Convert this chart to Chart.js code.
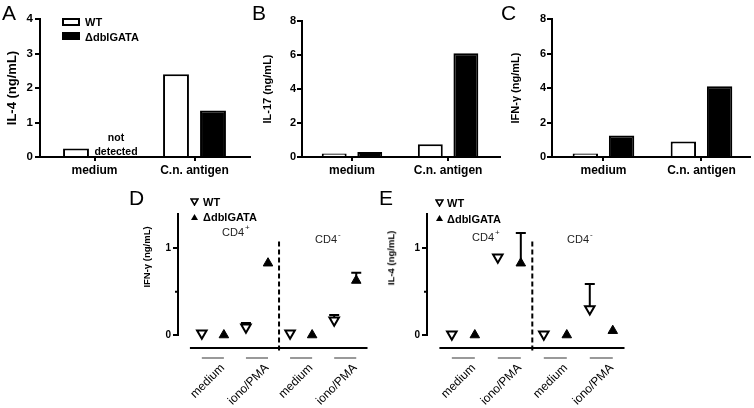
<!DOCTYPE html>
<html>
<head>
<meta charset="utf-8">
<script src="https://cdn.jsdelivr.net/npm/chart.js@4.4.1/dist/chart.umd.min.js"></script>
<style>
body { margin: 0; width: 754px; height: 408px; position: relative; background: #fff; overflow: hidden;
       font-family: 'Liberation Sans', Arial, sans-serif; color: #000; }
canvas { position: absolute; }
.t { position: absolute; line-height: 1; white-space: nowrap; transform: translateY(-50%); }
.b { font-weight: bold; }
.letra { position: absolute; font-size: 21px; line-height: 1; }
.rot { transform: translate(-50%, -50%) rotate(-90deg); }
.caja { position: absolute; width: 18px; height: 8px; box-sizing: border-box; border: 2px solid #000; }
.m { position: absolute; }
.sup { position: relative; top: -6px; font-size: 8px; margin-left: 1px; }
</style>
</head>
<body>
<canvas id="graficaA" style="left:0;top:0" width="252" height="185"></canvas>
<canvas id="graficaB" style="left:252px;top:0" width="250" height="185"></canvas>
<canvas id="graficaC" style="left:502px;top:0" width="252" height="185"></canvas>
<canvas id="graficaD" style="left:120px;top:185px" width="255" height="223"></canvas>
<canvas id="graficaE" style="left:370px;top:185px" width="262" height="223"></canvas>

<div class="letra" style="left:2px;top:2px">A</div>
<div class="letra" style="left:252px;top:2px">B</div>
<div class="letra" style="left:501px;top:2px">C</div>
<div class="letra" style="left:129px;top:187px">D</div>
<div class="letra" style="left:379px;top:187px">E</div>

<!-- leyenda A -->
<div class="caja" style="left:62px;top:18px;background:#fff"></div>
<div class="caja" style="left:62px;top:32px;background:#000"></div>
<div class="t b" style="left:85px;top:22px;font-size:11px">WT</div>
<div class="t b" style="left:85px;top:37px;font-size:11px">ΔdblGATA</div>
<div class="t b" style="left:116px;top:144px;font-size:10.5px;line-height:14px;text-align:center;transform:translate(-50%,-50%)">not<br>detected</div>

<!-- leyenda D -->
<svg class="m" style="left:190px;top:198px" width="9" height="8"><polygon points="1,1 8,1 4.5,7" fill="#fff" stroke="#000" stroke-width="1.6"/></svg>
<svg class="m" style="left:190px;top:213px" width="9" height="8"><polygon points="1,7 8,7 4.5,1" fill="#000"/></svg>
<div class="t b" style="left:203px;top:202px;font-size:11px">WT</div>
<div class="t b" style="left:203px;top:217px;font-size:11px">ΔdblGATA</div>
<div class="t" style="left:222px;top:232px;font-size:11px;color:#222">CD4<span class="sup">+</span></div>
<div class="t" style="left:315px;top:239px;font-size:11px;color:#222">CD4<span class="sup">-</span></div>
<div class="t b rot" style="left:147px;top:257px;font-size:9.5px">IFN-γ (ng/mL)</div>

<!-- leyenda E -->
<svg class="m" style="left:435px;top:199px" width="9" height="8"><polygon points="1,1 8,1 4.5,7" fill="#fff" stroke="#000" stroke-width="1.6"/></svg>
<svg class="m" style="left:435px;top:214px" width="9" height="8"><polygon points="1,7 8,7 4.5,1" fill="#000"/></svg>
<div class="t b" style="left:447px;top:203px;font-size:11px">WT</div>
<div class="t b" style="left:447px;top:219px;font-size:11px">ΔdblGATA</div>
<div class="t" style="left:472px;top:237px;font-size:11px;color:#222">CD4<span class="sup">+</span></div>
<div class="t" style="left:567px;top:239px;font-size:11px;color:#222">CD4<span class="sup">-</span></div>
<div class="t b rot" style="left:391px;top:258px;font-size:9.5px">IL-4 (ng/mL)</div>

<script>
const FUENTE = "'Liberation Sans', Arial, sans-serif";

// A-C: sobrenadantes con antígeno
const CATEGORIAS = ['medium', 'C.n. antigen'];
const IL4_WT = [0.25, 2.4];
const IL4_DBL = [null, 1.35];   // medium: not detected
const IL17_WT = [0.2, 0.75];
const IL17_DBL = [0.3, 6.1];
const IFNG_WT = [0.2, 0.9];
const IFNG_DBL = [1.25, 4.1];

// D-E: CD4+ / CD4- con iono/PMA
const ESTIMULOS = ['medium', 'iono/PMA', 'medium', 'iono/PMA'];
const D_WT = [0.02, 0.09, 0.02, 0.17];
const D_WT_ERR = [null, 0.14, null, 0.23];
const D_DBL = [0, 0.83, 0, 0.63];
const D_DBL_ERR = [null, null, null, 0.72];
const E_WT = [0.01, 0.9, 0.01, 0.3];
const E_WT_ERR = [null, null, null, 0.59];
const E_DBL = [0, 0.83, 0, 0.05];
const E_DBL_ERR = [null, 1.18, null, null];

const DIVISION = 3.5;        // línea discontinua entre CD4+ y CD4-
const TOPE_DIVISION = 1.08;
const INICIO_EJE_X = -0.54;

function graficaBarras(id, o) {
    return new Chart(document.getElementById(id), {
        type: 'bar',
        data: {
            datasets: [
                { label: 'WT', data: o.wt.map((v, i) => ({ x: i, y: v })),
                  backgroundColor: '#fff', borderColor: '#000', borderWidth: 2 },
                { label: 'ΔdblGATA', data: o.dbl.map((v, i) => ({ x: i, y: v })),
                  backgroundColor: '#000', borderColor: '#000', borderWidth: 2 }
            ]
        },
        options: {
            responsive: false,
            animation: false,
            events: [],
            layout: { padding: { top: o.arriba, right: o.derecha, left: 0, bottom: 0 } },
            datasets: { bar: { categoryPercentage: 0.74, barPercentage: 0.7 } },
            plugins: { legend: { display: false }, tooltip: { enabled: false } },
            scales: {
                x: {
                    type: 'linear', offset: false, min: o.xMin, max: o.xMax,
                    afterBuildTicks: s => { s.ticks = CATEGORIAS.map((c, i) => ({ value: i })); },
                    afterFit: s => { s.height = 28; },
                    ticks: { callback: v => CATEGORIAS[v], autoSkip: false, maxRotation: 0, padding: 2,
                             color: '#000', font: { family: FUENTE, size: 12, weight: 'bold' } },
                    grid: { offset: false, drawOnChartArea: false, tickLength: 4, lineWidth: 2, color: '#000' },
                    border: { color: '#000', width: 2 }
                },
                y: {
                    min: 0, max: o.yMax,
                    afterFit: s => { s.width = o.ancho; },
                    ticks: { stepSize: o.paso, padding: o.tickPad, color: '#000',
                             font: { family: FUENTE, size: o.tickFont, weight: 'bold' } },
                    grid: { drawOnChartArea: false, tickLength: 5, lineWidth: 2, color: '#000' },
                    border: { color: '#000', width: 2 },
                    title: { display: true, text: o.titulo, color: '#000', padding: { top: o.tituloPad, bottom: 0 },
                             font: { family: FUENTE, size: o.tituloFont, weight: 'bold' } }
                }
            }
        }
    });
}

// ejes desplazados estilo Prism, división, barras grises de grupo y barras de error
const ejesPrism = {
    id: 'ejesPrism',
    beforeDatasetsDraw(chart) {
        const { ctx, chartArea: a, scales: { x, y } } = chart;
        ctx.save();
        ctx.strokeStyle = '#000';
        ctx.lineWidth = 2;
        ctx.beginPath();
        ctx.moveTo(a.left, y.getPixelForValue(0) + 1);
        ctx.lineTo(a.left, a.top);
        ctx.moveTo(x.getPixelForValue(INICIO_EJE_X), a.bottom);
        ctx.lineTo(a.right, a.bottom);
        const yMedio = y.getPixelForValue(0.5);
        ctx.moveTo(a.left - 3, yMedio);
        ctx.lineTo(a.left, yMedio);
        ctx.stroke();

        const xd = x.getPixelForValue(DIVISION);
        ctx.setLineDash([5, 3]);
        ctx.beginPath();
        ctx.moveTo(xd, y.getPixelForValue(TOPE_DIVISION));
        ctx.lineTo(xd, a.bottom + 3);
        ctx.stroke();
        ctx.setLineDash([]);

        ctx.strokeStyle = '#999';
        ESTIMULOS.forEach((e, i) => {
            ctx.beginPath();
            ctx.moveTo(x.getPixelForValue(2 * i), a.bottom + 10);
            ctx.lineTo(x.getPixelForValue(2 * i + 1), a.bottom + 10);
            ctx.stroke();
        });

        ctx.strokeStyle = '#000';
        chart.data.datasets.forEach(ds => {
            ds.data.forEach((p, i) => {
                const tope = ds.errores[i];
                if (tope == null) return;
                const px = x.getPixelForValue(p.x);
                const y1 = y.getPixelForValue(tope);
                ctx.beginPath();
                ctx.moveTo(px, y.getPixelForValue(p.y));
                ctx.lineTo(px, y1);
                ctx.moveTo(px - 5, y1);
                ctx.lineTo(px + 5, y1);
                ctx.stroke();
            });
        });
        ctx.restore();
    }
};

function graficaPuntos(id, o) {
    return new Chart(document.getElementById(id), {
        type: 'scatter',
        data: {
            datasets: [
                { label: 'WT', data: o.wt.map((v, i) => ({ x: 2 * i, y: v })), errores: o.wtErr,
                  pointStyle: 'triangle', pointRotation: 180, pointRadius: 5.5,
                  pointBackgroundColor: '#fff', pointBorderColor: '#000', pointBorderWidth: 2 },
                { label: 'ΔdblGATA', data: o.dbl.map((v, i) => ({ x: 2 * i + 1, y: v })), errores: o.dblErr,
                  pointStyle: 'triangle', pointRadius: 5.5,
                  pointBackgroundColor: '#000', pointBorderColor: '#000', pointBorderWidth: 1 }
            ]
        },
        options: {
            responsive: false,
            animation: false,
            events: [],
            layout: { padding: { top: 28, right: o.derecha, left: 0, bottom: 0 } },
            plugins: { legend: { display: false }, tooltip: { enabled: false } },
            scales: {
                x: {
                    type: 'linear', min: -1.08, max: 7.51,
                    afterBuildTicks: s => { s.ticks = ESTIMULOS.map((e, i) => ({ value: 2 * i + 0.95 })); },
                    afterFit: s => { s.height = 60; },
                    ticks: { callback: (v, i) => ESTIMULOS[i], autoSkip: false, minRotation: 45, maxRotation: 45,
                             padding: 5, color: '#000', font: { family: FUENTE, size: 12 } },
                    grid: { display: false },
                    border: { display: false }
                },
                y: {
                    min: -0.15, max: 1.41,
                    afterBuildTicks: s => { s.ticks = [{ value: 0 }, { value: 1 }]; },
                    afterFit: s => { s.width = o.ancho; },
                    ticks: { padding: 2, color: '#000', font: { family: FUENTE, size: 10, weight: 'bold' } },
                    grid: { drawOnChartArea: false, tickLength: 5, lineWidth: 2, color: '#000' },
                    border: { display: false }
                }
            }
        },
        plugins: [ejesPrism]
    });
}

graficaBarras('graficaA', { wt: IL4_WT, dbl: IL4_DBL, yMax: 4, paso: 1, titulo: 'IL-4 (ng/mL)',
    tituloFont: 13, tituloPad: 5, tickFont: 11.5, tickPad: 2, ancho: 40, arriba: 19, derecha: 2, xMin: -0.545, xMax: 1.555 });
graficaBarras('graficaB', { wt: IL17_WT, dbl: IL17_DBL, yMax: 8, paso: 2, titulo: 'IL-17 (ng/mL)',
    tituloFont: 11, tituloPad: 9, tickFont: 11, tickPad: 1, ancho: 50, arriba: 21, derecha: 2, xMin: -0.52, xMax: 1.54 });
graficaBarras('graficaC', { wt: IFNG_WT, dbl: IFNG_DBL, yMax: 8, paso: 2, titulo: 'IFN-γ (ng/mL)',
    tituloFont: 11, tituloPad: 7, tickFont: 11, tickPad: 1, ancho: 50, arriba: 19, derecha: 4, xMin: -0.525, xMax: 1.495 });

graficaPuntos('graficaD', { wt: D_WT, wtErr: D_WT_ERR, dbl: D_DBL, dblErr: D_DBL_ERR, ancho: 58, derecha: 2 });
graficaPuntos('graficaE', { wt: E_WT, wtErr: E_WT_ERR, dbl: E_DBL, dblErr: E_DBL_ERR, ancho: 57, derecha: 5 });
</script>
</body>
</html>
